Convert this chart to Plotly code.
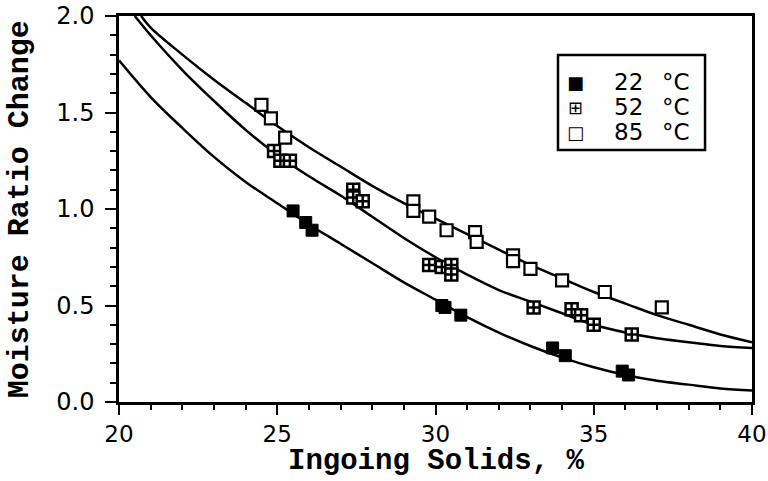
import plotly.graph_objects as go

# --- measured points ---
x22 = [25.5, 25.9, 26.1, 30.2, 30.3, 30.8, 33.7, 34.1, 35.9, 36.1]
y22 = [0.99, 0.93, 0.89, 0.50, 0.49, 0.45, 0.28, 0.24, 0.16, 0.14]

x52 = [24.9, 25.1, 25.4, 27.4, 27.4, 27.7, 29.8, 30.2, 30.5, 30.5, 33.1, 34.3, 34.6, 35.0, 36.2]
y52 = [1.30, 1.25, 1.25, 1.10, 1.06, 1.04, 0.71, 0.70, 0.71, 0.66, 0.49, 0.48, 0.45, 0.40, 0.35]

x85 = [24.5, 24.8, 25.25, 29.3, 29.3, 29.8, 30.35, 31.25, 31.3, 32.45, 32.45, 33.0, 34.0, 35.35, 37.15]
y85 = [1.54, 1.47, 1.37, 1.04, 0.99, 0.96, 0.89, 0.88, 0.83, 0.76, 0.73, 0.69, 0.63, 0.57, 0.49]

# --- fitted curves ---
cx22 = [20, 21, 22, 23, 24, 25, 26, 27, 28, 29, 30, 31, 32, 33, 34, 35, 36, 37, 38, 39, 40]
cy22 = [1.77, 1.58, 1.42, 1.27, 1.14, 1.03, 0.92, 0.82, 0.72, 0.62, 0.53, 0.44, 0.36, 0.29, 0.23,
        0.18, 0.14, 0.11, 0.09, 0.07, 0.06]

cx52 = [20.5, 21, 22, 23, 24, 25, 26, 27, 28, 29, 30, 31, 32, 33, 34, 35, 36, 37, 38, 39, 40]
cy52 = [2.0, 1.90, 1.72, 1.56, 1.41, 1.28, 1.17, 1.07, 0.96, 0.85, 0.75, 0.66, 0.58, 0.52, 0.46,
        0.40, 0.36, 0.33, 0.31, 0.29, 0.28]

cx85 = [20.7, 21, 22, 23, 24, 25, 26, 27, 28, 29, 30, 31, 32, 33, 34, 35, 36, 37, 38, 39, 40]
cy85 = [2.0, 1.94, 1.80, 1.67, 1.55, 1.43, 1.32, 1.22, 1.12, 1.03, 0.95, 0.87, 0.79, 0.71, 0.64,
        0.57, 0.51, 0.45, 0.40, 0.35, 0.31]

x_ticks = [20, 25, 30, 35, 40]
y_ticks = [0, 0.5, 1.0, 1.5, 2.0]
y_ticktext = ["0.0", "0.5", "1.0", "1.5", "2.0"]

legend_temps = ["22", "52", "85"]
legend_unit = "\u00b0C"
legend_symbols = ["\u25a0", "\u229e", "\u25a1"]

fig = go.Figure()
for cx, cy in [(cx22, cy22), (cx52, cy52), (cx85, cy85)]:
    fig.add_trace(go.Scatter(x=cx, y=cy, mode="lines", line=dict(color="black", width=2.5, shape="spline"),
                             showlegend=False, hoverinfo="skip"))

fig.add_trace(go.Scatter(x=x22, y=y22, mode="markers", name="22 \u00b0C", showlegend=False,
                         marker=dict(symbol="square", size=12, color="black", line=dict(color="black", width=1))))
fig.add_trace(go.Scatter(x=x52, y=y52, mode="markers", name="52 \u00b0C", showlegend=False,
                         marker=dict(symbol="square-cross", size=12, color="white", line=dict(color="black", width=2.5))))
fig.add_trace(go.Scatter(x=x85, y=y85, mode="markers", name="85 \u00b0C", showlegend=False,
                         marker=dict(symbol="square", size=12, color="white", line=dict(color="black", width=2.2))))

axis_common = dict(showgrid=False, zeroline=False, showline=True, linecolor="black", linewidth=2.5,
                   mirror=True, ticks="outside", tickcolor="black", tickwidth=2, automargin=False)

fig.update_xaxes(range=[20, 40], tickvals=x_ticks, ticklen=10,
                 tickfont=dict(family="DejaVu Sans", size=23, color="black"),
                 minor=dict(dtick=1, ticks="outside", ticklen=5, tickcolor="black", tickwidth=2),
                 **axis_common)
fig.update_yaxes(range=[0, 2.0], tickvals=y_ticks, ticktext=y_ticktext,
                 ticklen=11, ticklabelstandoff=6,
                 tickfont=dict(family="DejaVu Sans", size=24, color="black"),
                 minor=dict(dtick=0.1, ticks="outside", ticklen=6, tickcolor="black", tickwidth=2),
                 **axis_common)

fig.add_annotation(text="<b>Ingoing Solids, %</b>", xref="paper", yref="paper", x=0.5, y=-0.2026,
                   showarrow=False, xanchor="center", yanchor="bottom",
                   font=dict(family="Liberation Mono", size=29, color="black"))
fig.add_annotation(text="<b>Moisture Ratio Change</b>", xref="paper", yref="paper", x=-0.156, y=0.5,
                   showarrow=False, xanchor="center", yanchor="middle", textangle=-90,
                   font=dict(family="Liberation Mono", size=30, color="black"))

# legend box drawn manually
fig.add_shape(type="rect", xref="paper", yref="paper", x0=0.6935, x1=0.9258, y0=0.6528, y1=0.899,
              line=dict(color="black", width=2.5), fillcolor="white", layer="above")
row_y = [0.829, 0.764, 0.699]
for sym, t, ry in zip(legend_symbols, legend_temps, row_y):
    fig.add_annotation(text=sym, xref="paper", yref="paper", x=0.7204, y=ry, showarrow=False,
                       xanchor="center", yanchor="middle",
                       font=dict(family="DejaVu Sans", size=18, color="black"))
    fig.add_annotation(text=t, xref="paper", yref="paper", x=0.7788, y=ry, showarrow=False,
                       xanchor="left", yanchor="middle",
                       font=dict(family="DejaVu Sans", size=23, color="black"))
    fig.add_annotation(text=legend_unit, xref="paper", yref="paper", x=0.8547, y=ry, showarrow=False,
                       xanchor="left", yanchor="middle",
                       font=dict(family="DejaVu Sans", size=23, color="black"))

fig.update_layout(
    width=768, height=481,
    margin=dict(l=119, r=16, t=16, b=79),
    plot_bgcolor="white", paper_bgcolor="white",
    showlegend=False,
)

fig.write_html("out.html")
